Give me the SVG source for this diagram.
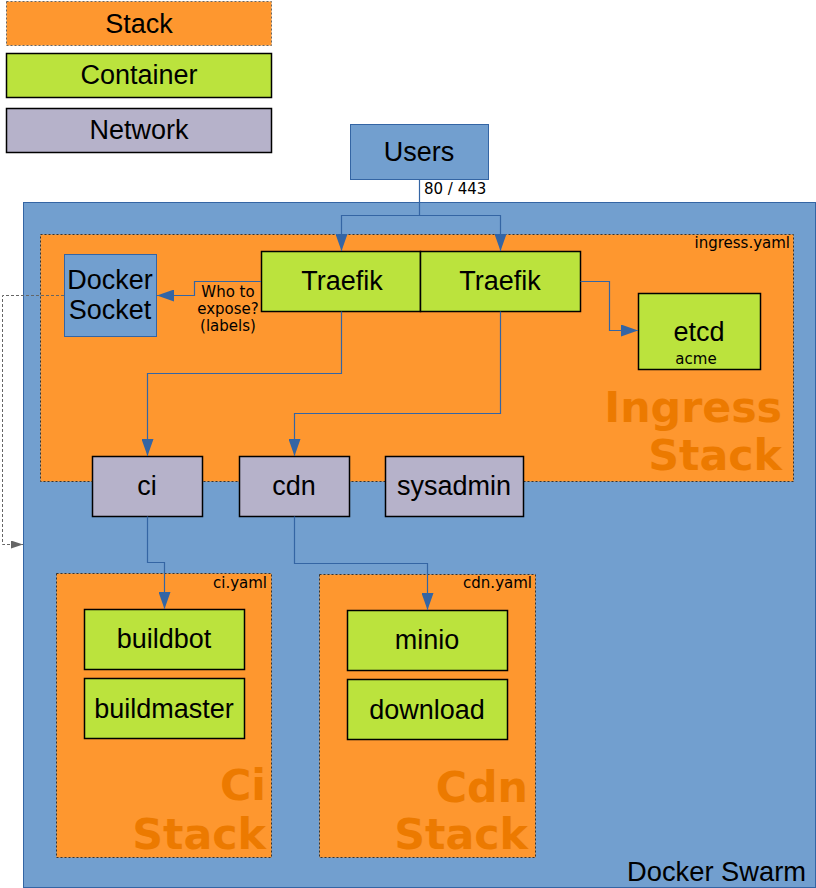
<svg xmlns="http://www.w3.org/2000/svg" width="816" height="888" viewBox="0 0 816 888">
<defs>
<style>
.stack{fill:#fe972f;stroke:#333;stroke-width:1;stroke-dasharray:2,2}
.cont{fill:#bbe33d;stroke:#000;stroke-width:1.5}
.net{fill:#b6b2ca;stroke:#000;stroke-width:1.5}
.blue{fill:#729fcf;stroke:#3465a4;stroke-width:1}
.lbl{font-family:"Liberation Sans",Arial,sans-serif;font-size:27px;fill:#000;text-anchor:middle}
.small{font-family:"DejaVu Sans",sans-serif;font-size:15px;fill:#000}
.big{font-family:"DejaVu Sans",sans-serif;font-weight:bold;font-size:42.7px;fill:#ec7a00;text-anchor:end}
.conn{fill:none;stroke:#3465a4;stroke-width:1.2}
.dash{fill:none;stroke:#666;stroke-width:1;stroke-dasharray:3,2}
</style>
<marker id="arr" markerUnits="userSpaceOnUse" markerWidth="17" markerHeight="12" refX="17" refY="6" orient="auto">
<path d="M0,0 L17,6 L0,12 z" fill="#3465a4"/>
</marker>
<marker id="arrg" markerUnits="userSpaceOnUse" markerWidth="12" markerHeight="8" refX="12" refY="4" orient="auto">
<path d="M0,0 L12,4 L0,8 z" fill="#666"/>
</marker>
</defs>

<g id="legend">
<g id="legend-stack"><rect x="6.5" y="1.5" width="265" height="44" fill="#fe972f" stroke="#666" stroke-width="1" stroke-dasharray="2,2"/><text class="lbl" x="139" y="33">Stack</text></g>
<g id="legend-container"><rect class="cont" x="6.5" y="53.5" width="265" height="44"/><text class="lbl" x="139" y="84">Container</text></g>
<g id="legend-network"><rect class="net" x="6.5" y="108.5" width="265" height="44"/><text class="lbl" x="139" y="139">Network</text></g>
</g>

<g id="swarm">
<rect class="blue" x="23.5" y="202.5" width="792" height="685"/>
<text x="806" y="881" font-family="Liberation Sans, Arial, sans-serif" font-size="27.3" text-anchor="end">Docker Swarm</text>
</g>

<g id="users">
<rect class="blue" x="350.5" y="124.5" width="138" height="55"/>
<text class="lbl" x="419" y="161">Users</text>
</g>

<g id="ingress-stack">
<rect class="stack" x="40.5" y="234.5" width="753" height="247"/>
<text class="small" x="790" y="248" text-anchor="end">ingress.yaml</text>
<text class="big" x="782" y="422">Ingress</text>
<text class="big" x="782" y="470">Stack</text>
</g>

<g id="ci-stack">
<rect class="stack" x="56.5" y="573.5" width="215" height="284"/>
<text class="small" x="267" y="588" text-anchor="end">ci.yaml</text>
<text class="big" x="266" y="800">Ci</text>
<text class="big" x="266" y="849">Stack</text>
</g>

<g id="cdn-stack">
<rect class="stack" x="319.5" y="574.5" width="216" height="283"/>
<text class="small" x="532" y="588" text-anchor="end">cdn.yaml</text>
<text class="big" x="528" y="802">Cdn</text>
<text class="big" x="528" y="849">Stack</text>
</g>

<g id="docker-socket">
<rect class="blue" x="64.5" y="254.5" width="92" height="82"/>
<text class="lbl" x="110" y="289">Docker</text>
<text class="lbl" x="110" y="319">Socket</text>
</g>

<g id="traefik1">
<rect class="cont" x="261.5" y="251.5" width="159" height="60"/>
<text class="lbl" x="342" y="290">Traefik</text>
</g>
<g id="traefik2">
<rect class="cont" x="420.5" y="251.5" width="160" height="60"/>
<text class="lbl" x="500" y="290">Traefik</text>
</g>

<g id="etcd">
<rect class="cont" x="638.5" y="293.5" width="122" height="76"/>
<text class="lbl" x="699" y="341">etcd</text>
<text class="small" x="696" y="364" text-anchor="middle">acme</text>
</g>

<g id="net-ci"><rect class="net" x="92.5" y="456.5" width="110" height="60"/><text class="lbl" x="147" y="495">ci</text></g>
<g id="net-cdn"><rect class="net" x="239.5" y="456.5" width="110" height="60"/><text class="lbl" x="294" y="495">cdn</text></g>
<g id="net-sysadmin"><rect class="net" x="385.5" y="456.5" width="138" height="60"/><text class="lbl" x="454" y="495">sysadmin</text></g>

<g id="buildbot"><rect class="cont" x="84.5" y="609.5" width="160" height="60"/><text class="lbl" x="164" y="648">buildbot</text></g>
<g id="buildmaster"><rect class="cont" x="84.5" y="678.5" width="160" height="60"/><text class="lbl" x="164" y="718">buildmaster</text></g>
<g id="minio"><rect class="cont" x="347.5" y="610.5" width="160" height="60"/><text class="lbl" x="427" y="649">minio</text></g>
<g id="download"><rect class="cont" x="347.5" y="679.5" width="160" height="60"/><text class="lbl" x="427" y="719">download</text></g>

<g id="connectors">
<path class="conn" d="M419.5,179.5 V215.5 H341.5 V251" marker-end="url(#arr)"/>
<path class="conn" d="M419.5,215.5 H500.5 V251" marker-end="url(#arr)"/>
<text class="small" x="424" y="194">80 / 443</text>
<path class="conn" d="M261,281.5 H194.5 V295.5 H157" marker-end="url(#arr)"/>
<text class="small" x="228" y="297" text-anchor="middle">Who to</text>
<text class="small" x="228" y="314" text-anchor="middle">expose?</text>
<text class="small" x="228" y="331" text-anchor="middle">(labels)</text>
<path class="conn" d="M341.5,311.5 V373.5 H147.5 V456" marker-end="url(#arr)"/>
<path class="conn" d="M500.5,311.5 V413.5 H294.5 V456" marker-end="url(#arr)"/>
<path class="conn" d="M580.5,281.5 H609.5 V330.5 H638" marker-end="url(#arr)"/>
<path class="conn" d="M147.5,516.5 V562.5 H164.5 V609" marker-end="url(#arr)"/>
<path class="conn" d="M294.5,516.5 V563.5 H427.5 V610" marker-end="url(#arr)"/>
<path class="dash" d="M64,295.5 H2.5 V544.5 H23" marker-end="url(#arrg)"/>
</g>
</svg>
